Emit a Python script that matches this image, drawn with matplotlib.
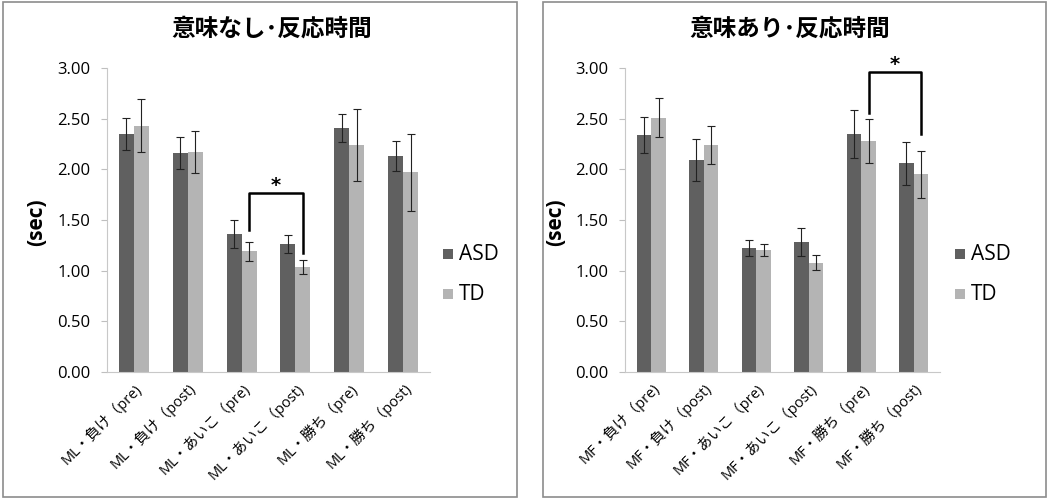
import numpy as np
import matplotlib.pyplot as plt
from matplotlib.patches import Rectangle

plt.rcParams['font.family'] = ['Open Sans', 'Noto Sans CJK JP', 'DejaVu Sans']

# data
labels_ml = ['ML・負け（pre)', 'ML・負け（post)', 'ML・あいこ（pre)',
             'ML・あいこ（post)', 'ML・勝ち（pre)', 'ML・勝ち（post)']
labels_mf = ['MF・負け（pre)', 'MF・負け（post)', 'MF・あいこ（pre)',
             'MF・あいこ（post)', 'MF・勝ち（pre)', 'MF・勝ち（post)']

ml_asd = [2.35, 2.16, 1.36, 1.26, 2.41, 2.13]
ml_asd_err = [0.16, 0.16, 0.14, 0.09, 0.14, 0.15]
ml_td = [2.43, 2.17, 1.19, 1.04, 2.24, 1.97]
ml_td_err = [0.26, 0.21, 0.09, 0.07, 0.36, 0.38]

mf_asd = [2.34, 2.09, 1.22, 1.28, 2.35, 2.06]
mf_asd_err = [0.18, 0.21, 0.08, 0.14, 0.24, 0.21]
mf_td = [2.51, 2.24, 1.20, 1.08, 2.28, 1.95]
mf_td_err = [0.19, 0.19, 0.06, 0.07, 0.22, 0.23]

titles = ['意味なし･反応時間', '意味あり･反応時間']
yticks = [0.0, 0.5, 1.0, 1.5, 2.0, 2.5, 3.0]

# significance brackets: (left cat, right cat, top y, left leg bottom, right leg bottom)
brackets = [(2, 3, 1.77, 1.40, 1.17), (4, 5, 2.96, 2.56, 2.35)]

c_asd = '#606060'
c_td = '#b4b4b4'
w = 0.28

fig = plt.figure(figsize=(10.49, 4.99), dpi=100)

# panel frames
for x0, x1 in [(3, 517), (543, 1046)]:
    fig.patches.append(Rectangle((x0 / 1049, 2 / 499), (x1 - x0) / 1049, 495 / 499,
                                 transform=fig.transFigure, fill=False,
                                 edgecolor='#8c8c8c', linewidth=1.2))

axes_pos = [[107 / 1049, 1 - 372 / 499, 323 / 1049, 304 / 499],
            [625 / 1049, 1 - 372 / 499, 315 / 1049, 304 / 499]]
datasets = [(labels_ml, ml_asd, ml_asd_err, ml_td, ml_td_err),
            (labels_mf, mf_asd, mf_asd_err, mf_td, mf_td_err)]
title_x = [272 / 1049, 790 / 1049]
ylabel_x = [37 / 1049, 556 / 1049]
legend_x = [443, 955]

for k in range(2):
    labels, asd, asd_e, td, td_e = datasets[k]
    ax = fig.add_axes(axes_pos[k])
    x = np.arange(len(labels))
    ax.bar(x - w / 2, asd, w, color=c_asd, yerr=asd_e, capsize=3,
           error_kw=dict(elinewidth=0.8, capthick=0.8, ecolor='#222222'))
    ax.bar(x + w / 2, td, w, color=c_td, yerr=td_e, capsize=3,
           error_kw=dict(elinewidth=0.8, capthick=0.8, ecolor='#222222'))
    ax.set_xlim(-0.5, len(labels) - 0.5)
    ax.set_ylim(0, 3.0)
    ax.set_yticks(yticks)
    ax.set_yticklabels(['%.2f' % v for v in yticks], fontsize=12)
    ax.set_xticks(x)
    ax.set_xticklabels(labels, rotation=45, ha='right', rotation_mode='anchor',
                       fontsize=10.5)
    ax.tick_params(axis='x', length=0, pad=6)
    ax.tick_params(axis='y', length=4, color='#bfbfbf', pad=8)
    for s in ['top', 'right']:
        ax.spines[s].set_visible(False)
    for s in ['left', 'bottom']:
        ax.spines[s].set_color('#c8c8c8')
    ax.set_facecolor('none')

    # bracket
    a, b, top, lb, rb = brackets[k]
    xl, xr = a + w / 2, b + w / 2
    ax.plot([xl, xl, xr, xr], [lb, top, top, rb], color='black', linewidth=1.8,
            clip_on=False)
    ax.text((xl + xr) / 2, top + 0.07, '*', ha='center', va='center', fontsize=14,
            fontweight='bold', family='DejaVu Sans')

    fig.text(title_x[k], 1 - 30 / 499, titles[k], ha='center', va='center',
             fontsize=17, fontweight='bold')
    fig.text(ylabel_x[k], 1 - 222 / 499, '(sec)', rotation=90, ha='center',
             va='center', fontsize=15, fontweight='bold')

    # legend
    for j, (name, c) in enumerate([('ASD', c_asd), ('TD', c_td)]):
        yc = 254 + 40 * j
        fig.patches.append(Rectangle((legend_x[k] / 1049, 1 - (yc + 5) / 499),
                                     10 / 1049, 10 / 499, transform=fig.transFigure,
                                     facecolor=c, edgecolor='none'))
        fig.text((legend_x[k] + 16) / 1049, 1 - yc / 499, name, ha='left',
                 va='center', fontsize=15)

fig.savefig('out.png', dpi=100)
